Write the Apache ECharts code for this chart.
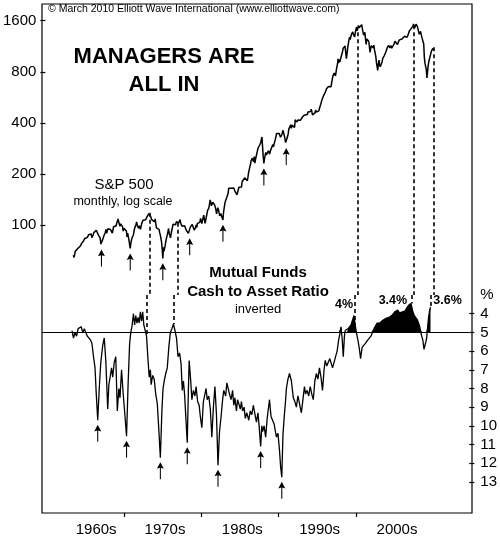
<!DOCTYPE html>
<html>
<head>
<meta charset="utf-8">
<script src="https://cdn.jsdelivr.net/npm/echarts@6/dist/echarts.min.js"></script>
<style>
  html, body { margin: 0; padding: 0; background: #fff; }
  #chart { width: 500px; height: 556px; }
</style>
</head>
<body>
<div id="chart"></div>
<script>
// S&P 500 monthly closes, starting Jan 1963
var spx1960s = [66.2,64.3,66.6,69.8,70.8,69.4,69.1,72.5,71.7,74.0,73.2,75.0,
  77.0,77.8,79.0,79.5,80.4,81.7,83.2,81.8,84.2,84.9,84.4,84.8,
  87.6,87.4,86.2,89.1,88.4,84.1,85.3,87.2,90.0,92.4,91.6,92.4,
  92.9,91.2,89.2,91.1,86.1,84.7,83.6,77.1,76.6,80.2,80.5,80.3,
  86.6,86.8,90.2,94.0,89.1,90.6,94.8,93.6,96.7,93.3,94.0,96.5,
  92.2,89.4,90.2,97.5,98.7,99.6,97.7,98.9,102.7,103.4,108.4,103.9,
  103.0,98.1,101.5,103.7,103.5,97.7,91.8,95.5,93.1,97.1,93.8,92.1];
var spx1970s = [85.0,89.5,89.6,81.5,76.6,72.7,78.1,81.5,84.3,83.3,87.2,92.2,
  95.9,96.8,100.3,104.0,99.6,99.7,95.6,99.0,98.3,94.2,94.0,102.1,
  103.9,106.6,107.2,107.7,109.5,107.1,107.4,111.1,110.6,111.6,116.7,118.1,
  116.0,111.7,111.5,107.0,105.0,104.3,108.2,104.3,108.4,108.3,96.0,97.6,
  96.6,96.2,94.0,90.3,87.3,86.0,79.3,72.2,63.5,73.9,70.0,68.6,
  77.0,81.6,83.4,87.3,91.2,95.2,88.8,86.9,83.9,89.0,91.2,90.2,
  100.9,99.7,102.8,101.6,100.2,104.3,103.4,102.9,105.2,102.9,102.1,107.5,
  102.0,99.8,98.4,98.4,96.1,100.5,98.9,96.8,96.5,92.3,94.8,95.1,
  89.3,87.0,89.2,97.0,97.2,95.5,100.7,103.3,102.5,93.2,94.7,96.1,
  99.9,96.3,101.6,101.8,99.1,102.9,103.8,109.3,109.3,101.8,106.2,107.9];
var spx1980s = [114.2,113.7,102.1,106.3,111.2,114.2,121.7,122.4,125.5,127.5,140.5,135.8,
  129.6,131.3,136.0,132.8,132.6,131.2,130.9,122.8,116.2,121.9,126.4,122.6,
  120.4,113.1,112.0,116.4,111.9,109.6,107.1,119.5,120.4,133.7,138.5,140.6,
  145.3,148.1,153.0,164.4,162.4,168.1,162.6,164.4,166.1,163.6,166.4,164.9,
  163.4,157.1,159.2,160.1,150.6,153.2,150.7,166.7,166.1,166.1,163.6,167.2,
  179.6,181.2,180.7,179.8,189.6,191.9,190.9,188.6,182.1,189.8,202.2,211.3,
  211.8,226.9,238.9,235.5,247.4,250.8,236.1,252.9,231.3,244.0,249.2,242.2,
  274.1,284.2,291.7,288.4,290.1,304.0,318.7,329.8,321.8,251.8,230.3,247.1,
  257.1,267.8,258.9,261.3,262.2,273.5,272.0,261.5,271.9,279.0,273.7,277.7,
  297.5,288.9,294.9,309.6,320.5,318.0,346.1,351.5,349.2,340.4,346.0,353.4];
var spx1990s = [329.1,331.9,339.9,330.8,361.2,358.0,356.2,322.6,306.1,304.0,322.2,330.2,
  343.9,367.1,375.2,375.3,389.8,371.2,387.8,395.4,387.9,392.5,375.2,417.1,
  408.8,412.7,403.7,415.0,415.4,408.1,424.2,414.0,417.8,418.7,431.4,435.7,
  438.8,443.4,451.7,440.2,450.2,450.5,448.1,463.6,458.9,467.8,461.8,466.5,
  481.6,467.1,445.8,450.9,456.5,444.3,458.3,475.5,462.7,472.4,453.7,459.3,
  470.4,487.4,500.7,514.7,533.4,544.8,562.1,561.9,584.4,581.5,605.4,615.9,
  636.0,640.4,645.5,654.2,669.1,670.6,640.0,652.0,687.3,705.3,757.0,740.7,
  786.2,790.8,757.1,801.3,848.3,885.1,954.3,899.5,947.3,914.6,955.4,970.4,
  980.3,1049.3,1101.8,1111.8,1090.8,1133.8,1120.7,957.3,1017.0,1098.7,1163.6,1229.2,
  1279.6,1238.3,1286.4,1335.2,1301.8,1372.7,1328.7,1320.4,1282.7,1362.9,1388.9,1469.3];
var spx2000s = [1394.5,1366.4,1498.6,1452.4,1420.6,1454.6,1430.8,1517.7,1436.5,1429.4,1315.0,1320.3,
  1366.0,1239.9,1160.3,1249.5,1255.8,1224.4,1211.2,1133.6,1040.9,1059.8,1139.5,1148.1,
  1130.2,1106.7,1147.4,1076.9,1067.1,989.8,911.6,916.1,815.3,885.8,936.3,879.8,
  855.7,841.2,848.2,916.9,963.6,974.5,990.3,1008.0,996.0,1050.7,1058.2,1111.9,
  1131.1,1144.9,1126.2,1107.3,1120.7,1140.8,1101.7,1104.2,1114.6,1130.2,1173.8,1211.9,
  1181.3,1203.6,1180.6,1156.9,1191.5,1191.3,1234.2,1220.3,1228.8,1207.0,1249.5,1248.3,
  1280.1,1280.7,1294.8,1310.6,1270.1,1270.2,1276.7,1303.8,1335.9,1377.9,1400.6,1418.3,
  1438.2,1406.8,1420.9,1482.4,1530.6,1503.4,1455.3,1474.0,1526.8,1549.4,1481.1,1468.4,
  1378.6,1330.6,1322.7,1385.6,1400.4,1280.0,1267.4,1282.8,1166.4,968.8,896.2,903.3,
  825.9,735.1,797.9,872.8,919.1,919.3,987.5,1020.6,1057.1,1036.2,1095.6,1115.1,
  1073.9];
var spxStartYear = 1963;

// Mutual funds cash-to-asset ratio (%)
var fundYears = [1963.3,1963.5,1963.7,1963.9,1964.1,1964.3,1964.5,1964.7,1964.9,1965.1,1965.3,1965.5,1965.7,1965.9,
  1966.1,1966.3,1966.45,1966.65,1966.85,1967.05,1967.3,1967.5,1967.7,1967.95,1968.1,1968.3,1968.45,1968.6,1968.8,
  1969.0,1969.2,1969.4,1969.55,1969.75,1969.95,1970.2,1970.4,1970.6,1970.8,1970.95,1971.1,1971.3,1971.45,1971.6,
  1971.75,1971.9,1972.05,1972.2,1972.35,1972.5,1972.65,1972.85,1973.0,1973.2,1973.35,1973.5,1973.6,1973.8,1974.0,
  1974.2,1974.4,1974.6,1974.8,1975.0,1975.15,1975.3,1975.5,1975.7,1975.9,1976.1,1976.3,1976.5,1976.7,1976.9,
  1977.1,1977.3,1977.5,1977.65,1977.8,1977.95,1978.15,1978.3,1978.45,1978.55,1978.75,1978.9,1979.1,1979.3,1979.45,
  1979.65,1979.85,1980.0,1980.2,1980.4,1980.6,1980.75,1980.9,1981.1,1981.3,1981.5,1981.7,1981.9,1982.1,1982.3,
  1982.5,1982.7,1982.9,1983.05,1983.3,1983.45,1983.6,1983.8,1984.0,1984.2,1984.35,1984.5,1984.7,1984.85,1985.0,
  1985.2,1985.35,1985.5,1985.7,1985.85,1986.05,1986.3,1986.5,1986.7,1986.9,1987.1,1987.3,1987.5,1987.65,1987.85,
  1988.0,1988.1,1988.3,1988.5,1988.7,1989.0,1989.2,1989.4,1989.6,1989.9,1990.1,1990.3,1990.45,1990.6,1990.75,
  1990.9,1991.1,1991.2,1991.4,1991.6,1991.85,1992.1,1992.3,1992.5,1992.7,1992.9,1993.15,1993.35,1993.55,1993.7,
  1993.9,1994.1,1994.3,1994.5,1994.7,1994.9,1995.1,1995.3,1995.5,1995.7,1995.9,1996.1,1996.25,1996.45,1996.65,
  1996.85,1997.0,1997.2,1997.4,1997.6,1997.8,1998.0,1998.2,1998.3,1998.45,1998.6,1998.75,1998.85,1999.05,1999.25,
  1999.45,1999.6,1999.8,2000.0,2000.15,2000.3,2000.5,2000.7,2000.85,2001.05,2001.25,2001.45,2001.65,2001.8,2002.0,
  2002.2,2002.4,2002.6,2002.8,2003.0,2003.2,2003.35,2003.55,2003.75,2003.95,2004.15,2004.35,2004.55,2004.75,2004.9,
  2005.1,2005.3,2005.5,2005.7,2005.9,2006.1,2006.3,2006.45,2006.65,2006.85,2007.0,2007.1,2007.25,2007.4,2007.55,
  2007.65,2007.85,2008.0,2008.2,2008.4,2008.55,2008.65,2008.8,2008.95,2009.1,2009.2,2009.35,2009.45,2009.55,2009.7,
  2009.85,2009.95];
var fundPct = [4.9,5.3,5.0,5.2,4.8,4.9,4.7,5.0,4.8,5.0,5.2,5.1,5.4,5.6,
  6.3,6.9,8.2,9.7,8.0,6.6,5.7,5.3,6.5,9.1,7.8,7.3,6.9,7.4,6.6,
  6.3,9.2,8.0,8.5,7.0,8.2,9.5,10.55,7.8,5.6,5.0,4.7,4.0,4.6,4.1,
  4.5,4.2,4.5,3.9,4.4,3.9,4.6,4.5,5.2,6.5,7.4,7.0,7.8,7.3,7.5,
  8.3,8.8,10.2,11.7,9.2,8.0,7.6,7.2,6.9,5.8,5.0,4.8,4.55,4.9,5.3,
  6.3,6.1,6.7,8.1,7.6,8.3,9.8,10.9,8.0,6.5,7.6,8.6,8.1,8.4,7.9,
  8.7,8.9,9.5,10.1,8.7,8.3,8.0,8.6,8.4,9.1,10.6,9.0,7.9,9.4,12.1,
  10.3,9.5,8.6,8.1,8.4,7.7,7.8,8.3,8.6,8.1,8.9,8.5,9.2,8.6,8.8,
  9.1,8.7,9.2,9.0,9.6,9.3,9.7,9.2,9.4,8.9,9.0,9.8,9.3,10.0,11.1,
  10.0,10.3,10.0,10.6,9.6,8.6,9.5,9.7,9.9,10.6,10.4,11.3,12.2,12.75,10.5,
  9.6,8.6,8.0,7.5,7.2,7.6,8.5,8.7,9.0,8.4,8.3,9.3,8.6,7.9,8.3,
  8.1,8.4,7.9,8.3,8.6,7.6,7.2,7.5,6.9,7.4,8.1,7.0,6.5,6.8,6.9,
  6.4,6.3,6.9,6.6,6.3,6.0,5.4,5.0,4.7,5.3,6.3,5.2,4.9,5.0,4.8,
  4.9,4.6,4.7,4.1,4.6,5.0,5.4,5.9,6.4,5.8,5.9,5.6,5.7,5.4,5.5,
  5.2,5.1,4.8,4.9,4.5,4.6,4.5,4.4,4.35,4.3,4.25,4.3,4.2,4.25,4.1,
  4.0,3.9,3.85,3.8,3.95,4.0,3.9,3.95,3.85,3.7,3.6,3.55,3.6,3.45,3.7,
  3.9,4.1,4.2,4.3,4.5,4.7,4.9,5.2,5.4,5.9,5.95,5.5,5.3,4.8,4.2,
  3.8,3.65];

var decadeNames = ['1960s', '1970s', '1980s', '1990s', '2000s'];
var decadeLabelAt = [1966.4, 1975.3, 1985.3, 1995.3, 2005.3];
var decadeTicks = [1970, 1980, 1990, 2000];
var spxTicks = [100, 200, 400, 800, 1600];
var fundTicks = [4, 5, 6, 7, 8, 9, 10, 11, 12, 13];
var fundLabels = [3, 4, 5, 6, 7, 8, 9, 10, 11, 12, 13];

var spxLowDates = [1966.7, 1970.45, 1974.7, 1978.2, 1982.55, 1987.88, 1990.8];
var fundLowDates = [1966.65, 1970.4, 1974.8, 1978.3, 1982.3, 1987.85, 1990.6];
var peakDates = [1973.0, 1976.6, 2000.15, 2007.45, 2010.0];
var fundPeakNotes = [[2000.0, '4%'], [2007.4, '3.4%'], [2009.95, '3.6%']];

(function () {
    var chart = echarts.init(document.getElementById('chart'));
    var font = 'Arial, "Liberation Sans", Helvetica, sans-serif';
    var xMin = 1959.4, xMax = 2015.0;
    var spxMin = 38.6, spxMax = 2008;
    var fundMin = 3, fundMax = 14.66;

    var spxData = [];
    [spx1960s, spx1970s, spx1980s, spx1990s, spx2000s].forEach(function (arr) {
        arr.forEach(function (v) {
            var i = spxData.length;
            spxData.push([spxStartYear + i / 12 + 1 / 24, v]);
        });
    });
    var fundData = fundYears.map(function (y, i) { return [y, fundPct[i]]; });
    // blackened part, above the 5% line in recent years
    var fillData = fundData.filter(function (d) { return d[0] >= 1997.9; })
        .map(function (d) { return [d[0], Math.min(d[1], 5)]; });

    function nearest(data, t) {
        var best = data[0];
        data.forEach(function (d) {
            if (Math.abs(d[0] - t) < Math.abs(best[0] - t)) best = d;
        });
        return best;
    }

    var arrow = 'path://M4,0 L8,7 L4.6,6 L4.6,18 L3.4,18 L3.4,6 L0,7 Z';
    var dash = { type: [4, 3], color: '#000', width: 1.6 };

    var option = {
        animation: false,
        backgroundColor: '#fff',
        textStyle: { fontFamily: font, color: '#000' },
        grid: [
            { left: 42, right: 28, top: 4, bottom: 43, show: true, borderColor: '#000', borderWidth: 1.2, backgroundColor: 'transparent' },
            { left: 42, right: 28, top: 4, height: 291 },
            { left: 42, right: 28, top: 295, bottom: 43 }
        ],
        xAxis: [
            {
                gridIndex: 0, type: 'value', min: xMin, max: xMax,
                axisLine: { show: false },
                splitLine: { show: false },
                axisTick: { show: true, customValues: decadeTicks, length: 4, lineStyle: { color: '#000', width: 1.2 } },
                axisLabel: {
                    customValues: decadeLabelAt, margin: 9, fontSize: 15, color: '#000', fontFamily: font,
                    formatter: function (v) {
                        var i = decadeLabelAt.indexOf(v);
                        return i >= 0 ? decadeNames[i] : '';
                    }
                }
            },
            { gridIndex: 1, type: 'value', min: xMin, max: xMax, show: false },
            { gridIndex: 2, type: 'value', min: xMin, max: xMax, show: false }
        ],
        yAxis: [
            { gridIndex: 0, type: 'value', min: 0, max: 1, show: false },
            {
                gridIndex: 1, type: 'log', logBase: 2, min: spxMin, max: spxMax,
                axisLine: { show: false },
                splitLine: { show: false },
                axisTick: { show: true, customValues: spxTicks, length: 5, lineStyle: { color: '#000', width: 1.2 } },
                axisLabel: {
                    customValues: spxTicks, margin: 9, fontSize: 15, color: '#000', fontFamily: font,
                    formatter: function (v) { return String(Math.round(v)); }
                }
            },
            {
                gridIndex: 2, type: 'value', inverse: true, position: 'right', min: fundMin, max: fundMax,
                axisLine: { show: false },
                splitLine: { show: false },
                axisTick: { show: true, customValues: fundTicks, length: 5, lineStyle: { color: '#000', width: 1.2 } },
                axisLabel: {
                    customValues: fundLabels, margin: 11, fontSize: 15, color: '#000', fontFamily: font,
                    formatter: function (v) { return v === 3 ? '%' : String(v); }
                }
            }
        ],
        graphic: [
            { type: 'text', left: 48, top: 4, style: { text: '\u00a9 March 2010 Elliott Wave International (www.elliottwave.com)', font: '10.5px ' + font, fill: '#000' } },
            { type: 'text', x: 164, y: 57, style: { text: 'MANAGERS ARE', font: 'bold 22px ' + font, fill: '#000', align: 'center', verticalAlign: 'middle' } },
            { type: 'text', x: 164, y: 85, style: { text: 'ALL IN', font: 'bold 22px ' + font, fill: '#000', align: 'center', verticalAlign: 'middle' } },
            { type: 'text', x: 124, y: 185, style: { text: 'S&P 500', font: '15px ' + font, fill: '#000', align: 'center', verticalAlign: 'middle' } },
            { type: 'text', x: 123, y: 202, style: { text: 'monthly, log scale', font: '12.5px ' + font, fill: '#000', align: 'center', verticalAlign: 'middle' } },
            { type: 'text', x: 258, y: 273, style: { text: 'Mutual Funds', font: 'bold 15px ' + font, fill: '#000', align: 'center', verticalAlign: 'middle' } },
            { type: 'text', x: 258, y: 292, style: { text: 'Cash to Asset Ratio', font: 'bold 15px ' + font, fill: '#000', align: 'center', verticalAlign: 'middle' } },
            { type: 'text', x: 258, y: 309, style: { text: 'inverted', font: '13px ' + font, fill: '#000', align: 'center', verticalAlign: 'middle' } }
        ],
        series: [
            {
                name: 'S&P 500', type: 'line', xAxisIndex: 1, yAxisIndex: 1,
                data: spxData, showSymbol: false, silent: true,
                lineStyle: { color: '#000', width: 1.5 },
                markPoint: {
                    symbol: arrow, symbolSize: [7, 17], symbolOffset: [0, 13.5], silent: true,
                    itemStyle: { color: '#000' }, label: { show: false },
                    data: spxLowDates.map(function (t) { return { coord: nearest(spxData, t) }; })
                },
                markLine: {
                    symbol: 'none', silent: true, label: { show: false }, lineStyle: dash,
                    data: peakDates.map(function (t) {
                        var p = nearest(spxData, t);
                        return [{ coord: [t, p[1]] }, { coord: [t, spxMin] }];
                    })
                }
            },
            {
                name: 'fill', type: 'line', xAxisIndex: 2, yAxisIndex: 2,
                data: fillData, showSymbol: false, silent: true,
                lineStyle: { width: 0 },
                areaStyle: { color: '#000', opacity: 1, origin: 5 },
                markLine: {
                    symbol: 'none', silent: true, label: { show: false },
                    lineStyle: { type: 'solid', color: '#000', width: 1.2 },
                    data: [{ yAxis: 5 }]
                },
                markPoint: {
                    symbol: 'circle', symbolSize: 0, silent: true,
                    label: { show: true, position: 'inside', fontSize: 12.5, fontWeight: 'bold', color: '#000', fontFamily: font },
                    data: fundPeakNotes.map(function (n, i) {
                        var offs = [[-10, -11], [-18, -3], [17, -7]];
                        return { coord: [n[0], nearest(fundData, n[0])[1]], value: n[1], label: { offset: offs[i], formatter: n[1] } };
                    })
                }
            },
            {
                name: 'Cash to Asset Ratio', type: 'line', xAxisIndex: 2, yAxisIndex: 2,
                data: fundData, showSymbol: false, silent: true,
                lineStyle: { color: '#000', width: 1.3 },
                markPoint: {
                    symbol: arrow, symbolSize: [7, 17], symbolOffset: [0, 13], silent: true,
                    itemStyle: { color: '#000' }, label: { show: false },
                    data: fundLowDates.map(function (t) { return { coord: nearest(fundData, t) }; })
                },
                markLine: {
                    symbol: 'none', silent: true, label: { show: false }, lineStyle: dash,
                    data: peakDates.map(function (t) {
                        var p = nearest(fundData, t);
                        return [{ coord: [t, fundMin] }, { coord: [t, p[1]] }];
                    })
                }
            }
        ]
    };
    chart.setOption(option);
})();
</script>
</body>
</html>
